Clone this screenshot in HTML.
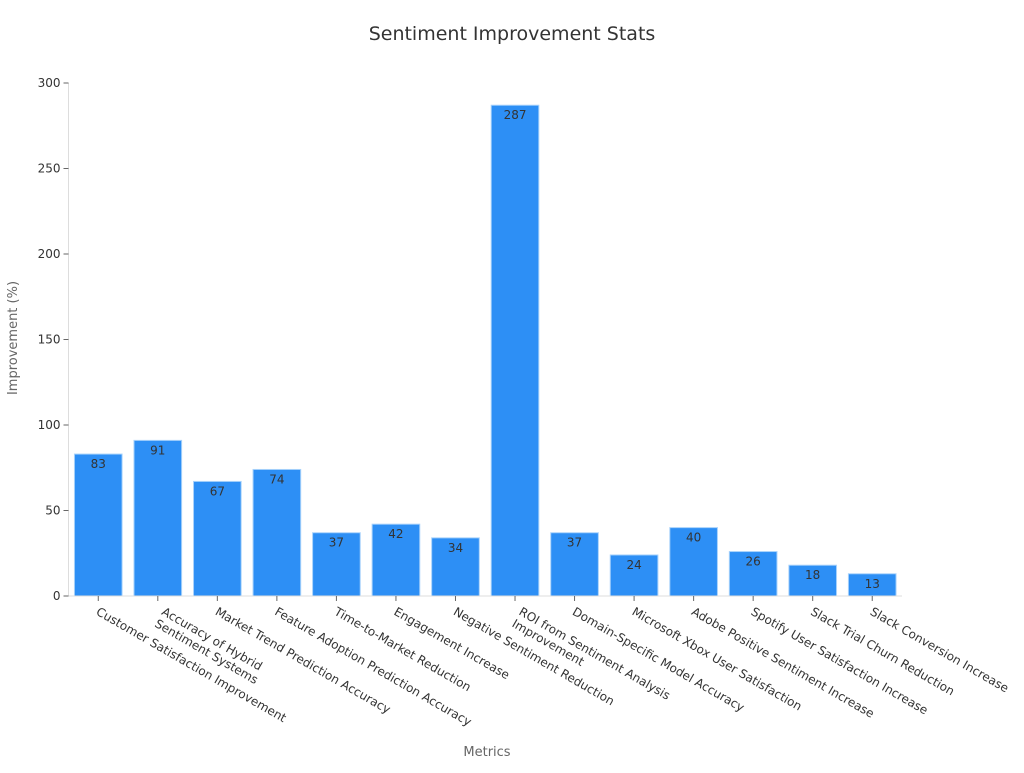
<!DOCTYPE html>
<html><head><meta charset="utf-8"><style>
body{margin:0;background:#fff;}
svg{font-family:"DejaVu Sans","Liberation Sans",sans-serif;}
</style></head><body>
<svg id="chart" width="1024" height="768" xmlns="http://www.w3.org/2000/svg">
<text x="512" y="40" text-anchor="middle" font-size="19" fill="#333">Sentiment Improvement Stats</text>
<text transform="translate(17,338) rotate(-90)" text-anchor="middle" font-size="13" fill="#666">Improvement (%)</text>
<text x="487" y="756" text-anchor="middle" font-size="13" fill="#666">Metrics</text>
<g id="yaxis"></g>
<g id="bars"></g>
<g id="xaxis"></g>
</svg>
<script>
const categories=[["Customer Satisfaction Improvement"],["Accuracy of Hybrid","Sentiment Systems"],["Market Trend Prediction Accuracy"],["Feature Adoption Prediction Accuracy"],["Time-to-Market Reduction"],["Engagement Increase"],["Negative Sentiment Reduction"],["ROI from Sentiment Analysis","Improvement"],["Domain-Specific Model Accuracy"],["Microsoft Xbox User Satisfaction"],["Adobe Positive Sentiment Increase"],["Spotify User Satisfaction Increase"],["Slack Trial Churn Reduction"],["Slack Conversion Increase"]];
const values=[83,91,67,74,37,42,34,287,37,24,40,26,18,13];
const yTicks=[0,50,100,150,200,250,300];
const NS="http://www.w3.org/2000/svg";
const x0=68.5,x1=902,y0=596,y1=83,yMax=300;
const step=(x1-x0)/categories.length;
const yS=v=>y0-(v/yMax)*(y0-y1);
const xC=i=>x0+step*(i+0.5);
function mk(t,a,p){const e=document.createElementNS(NS,t);for(const k in a)e.setAttribute(k,a[k]);p.appendChild(e);return e;}
const ya=document.getElementById('yaxis'),bg=document.getElementById('bars'),xa=document.getElementById('xaxis');
const yl=mk('line',{x1:x0,y1:y1,x2:x0,y2:y0,stroke:'#ddd'},ya);


yTicks.forEach(t=>{
 const tk=mk('line',{x1:x0-5,x2:x0,y1:yS(t),y2:yS(t),stroke:'#666'},ya);
 
 
 const tx=mk('text',{x:x0-8,y:yS(t)+4,'text-anchor':'end','font-size':12,fill:'#333'},ya);
 
 
 tx.textContent=t;
});
const xl=mk('line',{x1:x0,y1:y0,x2:x1,y2:y0,stroke:'#ddd'},xa);


values.forEach((v,i)=>{
 const bw=step*0.8,cx=xC(i);
 const r=mk('rect',{x:cx-bw/2,y:yS(v),width:bw,height:y0-yS(v),fill:'#2d8ff5',stroke:'#a8d2fb','stroke-width':1},bg);
 
 
 const vt=mk('text',{x:cx,y:yS(v)+14,'text-anchor':'middle','font-size':12,fill:'#333'},bg);
 
 
 vt.textContent=v;
 const tk=mk('line',{x1:cx,x2:cx,y1:y0,y2:y0+5,stroke:'#666'},xa);
 
 
 const lt=mk('text',{transform:`translate(${cx-3},${y0+18}) rotate(30)`,'font-size':12,fill:'#333'},xa);
 
 
 const lines=categories[i];
 lines.forEach((s,j)=>{
  const ts=mk('tspan',{x:0,dy:j===0?(lines.length>1?'0':'0'):'1.15em'},lt);
  ts.textContent=s;
 });
 if(lines.length>1){lt.setAttribute('transform',`translate(${cx+3},${y0+18}) rotate(30)`);}
});
</script>
</body></html>
